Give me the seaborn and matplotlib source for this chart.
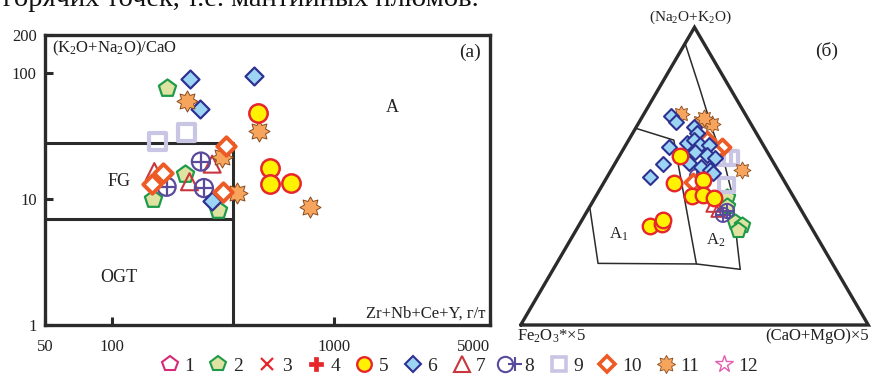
import numpy as np
import matplotlib
matplotlib.use("Agg")
import matplotlib.pyplot as plt
from matplotlib.lines import Line2D
from matplotlib.legend_handler import HandlerTuple
from matplotlib.path import Path
from matplotlib.ticker import FixedLocator, FixedFormatter, NullLocator
import seaborn as sns

sns.set_theme(style="white")
plt.rcParams["font.family"] = ["Liberation Serif", "DejaVu Serif"]
plt.rcParams["mathtext.default"] = "regular"

# ---------------- (a) Zr+Nb+Ce+Y vs (K2O+Na2O)/CaO ----------------
a2_x = [176, 214, 153, 301]
a2_y = [76.4, 15.8, 10.0, 8.2]
a5_x = [455, 513, 513, 638]
a5_y = [48.4, 17.5, 13.2, 13.3]
a6_x = [224, 435, 249, 282]
a6_y = [89.1, 94.7, 51.5, 9.6]
a7_x = [282, 155, 223]
a7_y = [18.9, 16.5, 13.7]
a8_x = [251, 176, 259]
a8_y = [19.8, 12.5, 12.2]
a9_x = [160, 217]
a9_y = [28.5, 33.6]
a10_x = [325, 170, 152, 315]
a10_y = [26.5, 16.2, 13.2, 11.4]
a11_x = [218, 460, 311, 366, 776]
a11_y = [60.3, 34.6, 21.7, 11.1, 8.7]

# field boundaries of the A / FG / OGT diagram
fg_top = 27.7
ogt_top = 6.9
fg_right = 350

x_ticks = [50, 100, 1000, 5000]
y_ticks = [1, 10, 100, 200]

# ---------------- (б) ternary (Na2O+K2O) - Fe2O3*x5 - (CaO+MgO)x5 ----------------
t2_nak = [43.1, 40.0, 34.7, 33.6, 31.9]
t2_fe = [19.2, 20.6, 21.0, 19.4, 21.5]
t2_cm = [37.7, 39.4, 44.3, 47.0, 46.6]
t5_nak = [56.9, 47.8, 48.7, 43.5, 43.8, 42.6, 33.4, 33.9, 35.4]
t5_fe = [25.7, 32.0, 23.1, 29.1, 25.6, 23.1, 46.1, 42.5, 41.3]
t5_cm = [17.4, 20.2, 28.2, 27.4, 30.6, 34.3, 20.5, 23.6, 23.3]
t6_nak = [70.2, 68.3, 49.6, 54.1, 59.9, 54.5, 66.4, 64.6, 61.0, 62.1, 60.5, 58.2,
          60.5, 57.1, 56.0, 53.2, 52.1, 51.0]
t6_fe = [21.7, 21.2, 38.0, 31.9, 27.3, 24.2, 16.9, 17.1, 21.6, 19.1, 18.2, 20.8,
         15.5, 17.9, 16.1, 21.4, 19.5, 19.1]
t6_cm = [8.1, 10.5, 12.4, 14.0, 12.8, 21.3, 16.7, 18.3, 17.4, 18.8, 21.3, 21.0,
         24.0, 25.0, 27.9, 25.4, 28.4, 29.9]
t7_nak = [40.3, 38.6]
t7_fe = [24.5, 23.9]
t7_cm = [35.2, 37.5]
t8_nak = [50.0, 38.3, 37.0]
t8_fe = [24.3, 21.5, 23.3]
t8_cm = [25.7, 40.2, 39.7]
t9_nak = [56.1, 56.1, 47.0]
t9_fe = [13.5, 11.4, 17.3]
t9_cm = [30.4, 32.5, 35.7]
t10_nak = [62.1, 59.8, 58.1, 48.0]
t10_fe = [15.4, 12.2, 15.1, 26.3]
t10_cm = [22.5, 28.0, 26.8, 25.7]
t11_nak = [70.9, 68.3, 67.5, 69.5, 51.9]
t11_fe = [18.3, 14.3, 11.3, 12.5, 10.5]
t11_cm = [10.8, 17.4, 21.2, 18.0, 37.6]

# field outlines (Na2O+K2O, Fe2O3*x5, (CaO+MgO)x5)
a2_edge = [(94.6, 5.4, 0.0), (78.9, 8.9, 12.2), (66.2, 11.9, 21.9), (53.7, 14.4, 31.9),
           (45.3, 16.8, 37.9), (33.6, 21.5, 44.9), (25.2, 24.9, 49.9), (18.7, 27.5, 53.8)]
base_edge = [(18.7, 27.5, 53.8), (20.5, 39.2, 40.3), (20.7, 67.4, 11.9), (39.7, 60.3, 0.0)]
a1_top = [(66.1, 33.9, 0.0), (62.1, 24.9, 13.0), (20.5, 39.2, 40.3)]

legend_labels = ["1", "2", "3", "4", "5", "6", "7", "8", "9", "10", "11", "12"]

# marker styles
C_MAG = "#d42a78"
C_GRN = "#1e9a4a"
C_PGR = "#dfe3a2"
C_RED = "#e6262b"
C_YEL = "#fff200"
C_NAVY = "#2e3192"
C_SKY = "#9cd4f4"
C_TRI = "#c9363c"
C_PUR = "#5a4a9c"
C_LAV = "#c8c6e4"
C_ORG = "#ee5a26"
C_STAR = "#f7a45c"
C_BRN = "#8a4a1c"
C_PNK = "#e55cb4"
LINE = "#2b2b2b"

STAR8 = Path.unit_regular_star(8, 0.62)
PLUS = Path([(-1, 0), (1, 0), (0, -1), (0, 1)],
            [Path.MOVETO, Path.LINETO, Path.MOVETO, Path.LINETO])

W, H = 871, 375
fig = plt.figure(figsize=(W / 100, H / 100), dpi=100)


def fx(px):
    return px / W


def fy(py):
    return 1 - py / H


def scat(ax, x, y, marker, s, fc, ec, lw, z):
    sns.scatterplot(x=x, y=y, ax=ax, marker=marker, s=s, facecolor=fc,
                    edgecolor=ec, linewidth=lw, zorder=z, legend=False, clip_on=False)


def circled_plus(ax, x, y, s, lw, z):
    scat(ax, x, y, "o", s, "none", C_PUR, lw, z)
    scat(ax, x, y, PLUS, s * 0.95, "none", C_PUR, lw, z)


# ---------------- panel (a) ----------------
ax = fig.add_axes([fx(45), fy(325), fx(490) - fx(45), fy(35) - fy(325)])
ax.set_xscale("log")
ax.set_yscale("log")
ax.set_xlim(50, 5000)
ax.set_ylim(1, 200)

ax.plot([50, fg_right], [fg_top, fg_top], color=LINE, lw=2.2, zorder=2)
ax.plot([50, fg_right], [ogt_top, ogt_top], color=LINE, lw=2.2, zorder=2)
ax.plot([fg_right, fg_right], [1, fg_top], color=LINE, lw=2.2, zorder=2)

scat(ax, a9_x, a9_y, "s", 150, "none", C_LAV, 3.0, 3)
scat(ax, a2_x, a2_y, "p", 170, C_PGR, C_GRN, 1.6, 4)
scat(ax, a7_x, a7_y, "^", 150, "none", C_TRI, 1.5, 4)
circled_plus(ax, a8_x, a8_y, 170, 1.6, 5)
scat(ax, a6_x, a6_y, "D", 84, C_SKY, C_NAVY, 1.6, 5)
scat(ax, a11_x, a11_y, STAR8, 230, C_STAR, C_BRN, 0.7, 6)
scat(ax, a10_x, a10_y, "D", 88, "white", C_ORG, 2.8, 7)
scat(ax, a5_x, a5_y, "o", 175, C_YEL, C_RED, 1.8, 7)

ax.xaxis.set_major_locator(FixedLocator(x_ticks))
ax.xaxis.set_major_formatter(FixedFormatter([str(v) for v in x_ticks]))
ax.yaxis.set_major_locator(FixedLocator(y_ticks))
ax.yaxis.set_major_formatter(FixedFormatter([str(v) for v in y_ticks]))
ax.xaxis.set_minor_locator(NullLocator())
ax.yaxis.set_minor_locator(NullLocator())
ax.tick_params(axis="both", which="major", direction="in", length=6, width=2.2,
               color=LINE, labelsize=12, labelcolor="#222222", bottom=True, left=True)
ax.tick_params(axis="x", pad=10)
ax.tick_params(axis="y", pad=6)
ax.get_xticklabels()[-1].set_horizontalalignment("right")
ax.get_xticklabels()[-1].set_x(5000)
for sp in ax.spines.values():
    sp.set_linewidth(2.4)
    sp.set_color(LINE)
ax.set_xlabel("")
ax.set_ylabel("")

fig.text(fx(52), fy(48), "(K$_2$O+Na$_2$O)/CaO", fontsize=12, ha="left", va="center", color="#222")
fig.text(fx(481), fy(52), "(a)", fontsize=14, ha="right", va="center", color="#222")
fig.text(fx(392), fy(107), "A", fontsize=13, ha="center", va="center", color="#222")
fig.text(fx(119), fy(181), "FG", fontsize=13, ha="center", va="center", color="#222")
fig.text(fx(119), fy(277), "OGT", fontsize=13, ha="center", va="center", color="#222")
fig.text(fx(485), fy(314), "Zr+Nb+Ce+Y, г/т", fontsize=12, ha="right", va="center", color="#222")

# ---------------- panel (б) ----------------
SQ3 = np.sqrt(3) / 2
bx = fig.add_axes([fx(520.7), fy(325), fx(868.3) - fx(520.7), fy(27.3) - fy(325)])
bx.set_xlim(0, 1)
bx.set_ylim(0, SQ3)
bx.axis("off")


def tern(nak, fe, cm):
    nak = np.asarray(nak, float)
    fe = np.asarray(fe, float)
    cm = np.asarray(cm, float)
    tot = nak + fe + cm
    t = nak / tot
    r = cm / tot
    return r + t / 2, t * SQ3


def tern_line(pts, lw):
    arr = np.array(pts)
    x, y = tern(arr[:, 0], arr[:, 1], arr[:, 2])
    bx.plot(x, y, color=LINE, lw=lw, clip_on=False, zorder=2)


bx.plot([0, 1, 0.5, 0], [0, 0, SQ3, 0], color=LINE, lw=2.4, clip_on=False,
        solid_joinstyle="miter", zorder=2)
tern_line(a2_edge, 1.1)
tern_line(base_edge, 1.1)
tern_line(a1_top, 1.1)


def tscat(nak, fe, cm, marker, s, fc, ec, lw, z):
    x, y = tern(nak, fe, cm)
    scat(bx, x, y, marker, s, fc, ec, lw, z)


tscat(t2_nak, t2_fe, t2_cm, "p", 135, C_PGR, C_GRN, 1.5, 3)
tscat(t7_nak, t7_fe, t7_cm, "^", 95, "none", C_TRI, 1.4, 3)
x8, y8 = tern(t8_nak, t8_fe, t8_cm)
circled_plus(bx, x8, y8, 105, 1.4, 4)
tscat(t9_nak, t9_fe, t9_cm, "s", 110, "none", C_LAV, 3.0, 4)
tscat(t10_nak, t10_fe, t10_cm, "D", 68, "white", C_ORG, 2.7, 5)
tscat(t11_nak, t11_fe, t11_cm, STAR8, 150, C_STAR, C_BRN, 0.6, 5)
tscat(t6_nak, t6_fe, t6_cm, "D", 58, C_SKY, C_NAVY, 1.5, 6)
tscat(t5_nak, t5_fe, t5_cm, "o", 125, C_YEL, C_RED, 1.7, 7)

fig.text(fx(690), fy(17), "(Na$_2$O+K$_2$O)", fontsize=11, ha="center", va="center", color="#222")
fig.text(fx(827), fy(51), "(б)", fontsize=14, ha="center", va="center", color="#222")
fig.text(fx(619), fy(234), "A$_1$", fontsize=12, ha="center", va="center", color="#222")
fig.text(fx(716), fy(240), "A$_2$", fontsize=12, ha="center", va="center", color="#222")
fig.text(fx(517), fy(336), "Fe$_2$O$_3$*×5", fontsize=12, ha="left", va="center", color="#222")
fig.text(fx(869), fy(336), "(CaO+MgO)×5", fontsize=12, ha="right", va="center", color="#222")

# text line of the page above the figure
fig.text(fx(3), fy(6), "горячих точек, т.е. мантийных плюмов.", fontsize=20.5,
         ha="left", va="baseline", color="#111")

# ---------------- legend ----------------
def mk(marker, ms, fc, ec, mew):
    return Line2D([], [], linestyle="none", marker=marker, markersize=ms,
                  markerfacecolor=fc, markeredgecolor=ec, markeredgewidth=mew)


handles = [
    mk("p", 11.5, "white", C_MAG, 1.5),
    mk("p", 11.5, C_PGR, C_GRN, 1.5),
    mk("x", 8.5, C_RED, C_RED, 1.6),
    mk("P", 10, C_RED, C_RED, 0.5),
    mk("o", 10.5, C_YEL, C_RED, 1.7),
    mk("D", 7.8, C_SKY, C_NAVY, 1.5),
    mk("^", 11, "white", C_TRI, 1.5),
    (mk("o", 11, "white", C_PUR, 1.5), mk(PLUS, 10.5, "none", C_PUR, 1.5)),
    mk("s", 10, "white", C_LAV, 2.6),
    mk("D", 8, "white", C_ORG, 2.6),
    mk(STAR8, 13, C_STAR, C_BRN, 0.6),
    mk("*", 13, "white", C_PNK, 1.0),
]
fig.legend(handles, legend_labels, loc="center", bbox_to_anchor=(fx(459), fy(366)),
           ncol=12, frameon=False, fontsize=14, handlelength=1.0, handletextpad=0.25,
           columnspacing=0.75, borderpad=0, borderaxespad=0,
           handler_map={tuple: HandlerTuple(ndivide=None, pad=0)})

fig.savefig("out.png", dpi=100)
